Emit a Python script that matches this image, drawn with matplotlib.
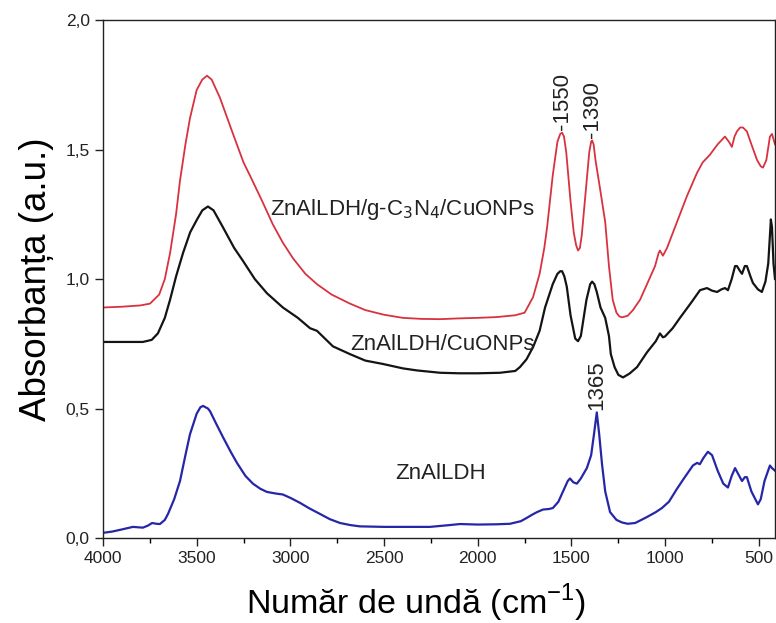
import matplotlib
matplotlib.use("Agg")
import matplotlib.pyplot as plt
from matplotlib.ticker import MultipleLocator, FuncFormatter

plt.rcParams['font.family'] = ['Liberation Sans', 'DejaVu Sans']

# FTIR spectra: wavenumber (cm-1) and absorbance (a.u.)
wn_cu_gcn = [4000, 3900, 3800, 3749, 3700, 3670, 3642, 3610, 3589, 3560, 3536, 3500, 3470, 3445,
             3420, 3376, 3306, 3250, 3216, 3150, 3093, 3040, 2986, 2920, 2858, 2780, 2682, 2600,
             2500, 2400, 2300, 2200, 2100, 2000, 1900, 1800, 1750, 1705, 1670, 1645, 1630, 1600, 1575,
             1560, 1550, 1540, 1528, 1505, 1488, 1475, 1465, 1455, 1445, 1425, 1405, 1395, 1390, 1382,
             1372, 1350, 1335, 1320, 1300, 1280, 1260, 1245, 1230, 1200, 1172, 1134, 1097, 1054, 1035,
             1028, 1012, 990, 937, 884, 830, 800, 761, 720, 681, 660, 644, 630, 617, 600, 585, 564,
             540, 510, 490, 478, 460, 441, 430, 414]
ab_cu_gcn = [0.89, 0.893, 0.898, 0.905, 0.94, 1.00, 1.10, 1.25, 1.38, 1.52, 1.62, 1.73, 1.77, 1.785,
             1.77, 1.70, 1.56, 1.45, 1.40, 1.30, 1.21, 1.14, 1.08, 1.02, 0.98, 0.94, 0.905, 0.88,
             0.862, 0.85, 0.846, 0.845, 0.848, 0.85, 0.853, 0.86, 0.87, 0.93, 1.02, 1.12, 1.20, 1.40, 1.53,
             1.56, 1.565, 1.55, 1.49, 1.30, 1.18, 1.13, 1.11, 1.12, 1.17, 1.33, 1.49, 1.53, 1.535, 1.52,
             1.46, 1.36, 1.29, 1.22, 1.05, 0.92, 0.87, 0.856, 0.852, 0.858, 0.88, 0.92, 0.98, 1.05, 1.10,
             1.11, 1.09, 1.12, 1.22, 1.32, 1.41, 1.45, 1.48, 1.52, 1.55, 1.53, 1.51, 1.55, 1.57, 1.585, 1.585, 1.57,
             1.52, 1.46, 1.435, 1.43, 1.46, 1.55, 1.56, 1.52]

wn_cu = [4000, 3900, 3787, 3740, 3707, 3670, 3642, 3610, 3573, 3535, 3498, 3470, 3440, 3410,
         3360, 3300, 3253, 3190, 3125, 3040, 2960, 2895, 2858, 2773, 2682, 2600, 2506, 2400,
         2324, 2200, 2100, 2000, 1882, 1800, 1775, 1740, 1705, 1670, 1641, 1600, 1575, 1560, 1550,
         1538, 1525, 1505, 1480, 1465, 1450, 1420, 1400, 1390, 1378, 1365, 1345, 1320, 1300, 1290,
         1270, 1250, 1225, 1190, 1150, 1097, 1050, 1028, 1012, 1001, 960, 921, 860, 814, 777, 750,
         723, 700, 681, 665, 645, 627, 617, 600, 590, 575, 564, 545, 532, 505, 484, 465, 450, 440,
         436, 430, 422, 414]
ab_cu = [0.757, 0.757, 0.757, 0.765, 0.79, 0.85, 0.92, 1.01, 1.10, 1.18, 1.23, 1.265, 1.28, 1.265,
         1.20, 1.12, 1.07, 1.00, 0.945, 0.89, 0.85, 0.81, 0.80, 0.74, 0.71, 0.685, 0.672, 0.655,
         0.647, 0.638, 0.636, 0.636, 0.638, 0.645, 0.66, 0.69, 0.737, 0.80, 0.89, 0.98, 1.02, 1.03, 1.03,
         1.01, 0.97, 0.86, 0.77, 0.76, 0.78, 0.92, 0.98, 0.99, 0.98, 0.95, 0.89, 0.85, 0.78, 0.71,
         0.66, 0.63, 0.62, 0.635, 0.66, 0.717, 0.76, 0.79, 0.775, 0.778, 0.81, 0.85, 0.91, 0.957, 0.965, 0.955,
         0.95, 0.96, 0.965, 0.957, 1.00, 1.05, 1.05, 1.03, 1.02, 1.05, 1.05, 1.01, 0.985, 0.96, 0.95, 0.99, 1.06, 1.18,
         1.23, 1.20, 1.06, 1.00]

wn_ldh = [4000, 3950, 3900, 3840, 3787, 3760, 3738, 3715, 3696, 3670, 3653, 3620, 3589, 3560,
          3536, 3500, 3480, 3466, 3440, 3429, 3395, 3360, 3320, 3285, 3240, 3200, 3160, 3125,
          3080, 3040, 3000, 2949, 2900, 2842, 2790, 2735, 2680, 2629, 2500, 2400, 2255, 2150,
          2095, 2000, 1900, 1828, 1770, 1738, 1710, 1684, 1652, 1620, 1599, 1570, 1545, 1520,
          1508, 1490, 1471, 1450, 1418, 1395, 1380, 1365, 1352, 1337, 1320, 1294, 1260, 1230,
          1200, 1160, 1100, 1050, 1017, 980, 937, 900, 852, 830, 815, 795, 772, 750, 720,
          690, 665, 645, 627, 605, 590, 575, 564, 540, 505, 490, 470, 441, 430, 414]
ab_ldh = [0.02, 0.025, 0.033, 0.043, 0.04, 0.048, 0.058, 0.055, 0.054, 0.07, 0.093, 0.15, 0.22, 0.32,
          0.40, 0.48, 0.505, 0.51, 0.50, 0.49, 0.44, 0.39, 0.335, 0.29, 0.24, 0.21, 0.19, 0.178,
          0.172, 0.168, 0.155, 0.136, 0.115, 0.093, 0.073, 0.058, 0.05, 0.045, 0.043, 0.043, 0.043, 0.05,
          0.054, 0.052, 0.053, 0.055, 0.065, 0.078, 0.09, 0.10, 0.11, 0.112, 0.116, 0.14, 0.18, 0.22,
          0.23, 0.215, 0.21, 0.23, 0.27, 0.32, 0.40, 0.485, 0.40, 0.285, 0.18, 0.10, 0.07, 0.06,
          0.055, 0.058, 0.08, 0.10, 0.116, 0.14, 0.19, 0.23, 0.28, 0.29, 0.285, 0.31, 0.333, 0.32, 0.26,
          0.21, 0.195, 0.24, 0.27, 0.24, 0.22, 0.235, 0.235, 0.18, 0.13, 0.15, 0.22, 0.28, 0.27, 0.26]

# Band annotations: (text, wavenumber, absorbance at the band)
band_labels = [("-1550", 1550, 1.565), ("-1390", 1390, 1.535), ("1365", 1365, 0.485)]

fig = plt.figure(figsize=(7.76, 6.23), dpi=100)
ax = fig.add_axes([0.1327, 0.1364, 0.866, 0.8315])

ax.plot(wn_cu_gcn, ab_cu_gcn, color="#d8323f", lw=1.3)
ax.plot(wn_cu, ab_cu, color="#141414", lw=1.6)
ax.plot(wn_ldh, ab_ldh, color="#2626a8", lw=1.6)

ax.set_xlim(4000, 414)
ax.set_ylim(0, 2.0)

ax.xaxis.set_major_locator(MultipleLocator(500))
ax.xaxis.set_minor_locator(MultipleLocator(250))
ax.yaxis.set_major_locator(MultipleLocator(0.5))
ax.yaxis.set_major_formatter(FuncFormatter(lambda v, p: f"{v:.1f}".replace(".", ",")))

ax.tick_params(axis="both", which="major", direction="out", length=6, width=1.0,
               labelsize=12.5, colors="#222222")
ax.tick_params(axis="x", which="minor", direction="out", length=3.5, width=1.0)
for s in ax.spines.values():
    s.set_linewidth(1.0)
    s.set_color("#222222")

ax.set_xlabel("Număr de undă (cm$^{\\mathregular{-1}}$)", fontsize=24.5, labelpad=8)
ax.xaxis.set_label_coords(0.466, -0.085, transform=ax.transAxes)
ax.xaxis.label.set_va("top")
ax.set_ylabel("Absorbanța (a.u.)", fontsize=26.5, labelpad=8)

# Sample names
ax.text(3110, 1.247, "ZnAlLDH/g-C$_3$N$_4$/CuONPs", fontsize=16, va="baseline", ha="left",
        color="#222222")
ax.text(2682, 0.726, "ZnAlLDH/CuONPs", fontsize=16, va="baseline", ha="left", color="#222222")
ax.text(2442, 0.228, "ZnAlLDH", fontsize=16, va="baseline", ha="left", color="#222222")

for txt, x, y in band_labels:
    ax.text(x, y + 0.01, txt, rotation=90, fontsize=16, ha="center", va="bottom",
            color="#222222")

fig.savefig("out.png", dpi=100)
